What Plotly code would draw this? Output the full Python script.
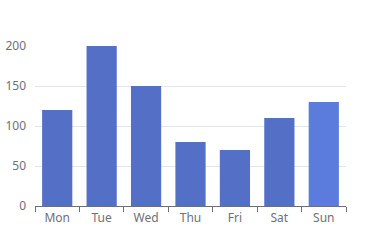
import plotly.graph_objects as go

categories = ["Mon", "Tue", "Wed", "Thu", "Fri", "Sat", "Sun"]
values = [120, 200, 150, 80, 70, 110, 130]
colors = ["#5470c6"] * 6 + ["#5b7cdc"]
y_ticks = [0, 50, 100, 150, 200]

fig = go.Figure(go.Bar(
    x=categories, y=values, marker=dict(color=colors, line=dict(width=0)),
    width=0.68,
))
fig.update_layout(
    width=381, height=243,
    margin=dict(l=35, r=35, t=46, b=37),
    paper_bgcolor="white", plot_bgcolor="white",
    font=dict(family="Noto Sans, sans-serif", size=12, color="#6e7079"),
    showlegend=False, bargap=0.3,
)
fig.update_xaxes(
    showline=True, linecolor="#6e7079", linewidth=1,
    ticks="outside", tickson="boundaries", ticklen=5, tickcolor="#6e7079",
    showgrid=False, tickfont=dict(size=12, color="#6e7079"), automargin=False,
    ticklabelstandoff=1,
)
fig.update_yaxes(
    range=[0, 200], tickvals=y_ticks, showline=False,
    gridcolor="#e0e6f1", gridwidth=1, zeroline=False, automargin=False,
    ticks="", ticklabelstandoff=8, tickfont=dict(size=12, color="#6e7079"),
)
fig.write_html("out.html")
